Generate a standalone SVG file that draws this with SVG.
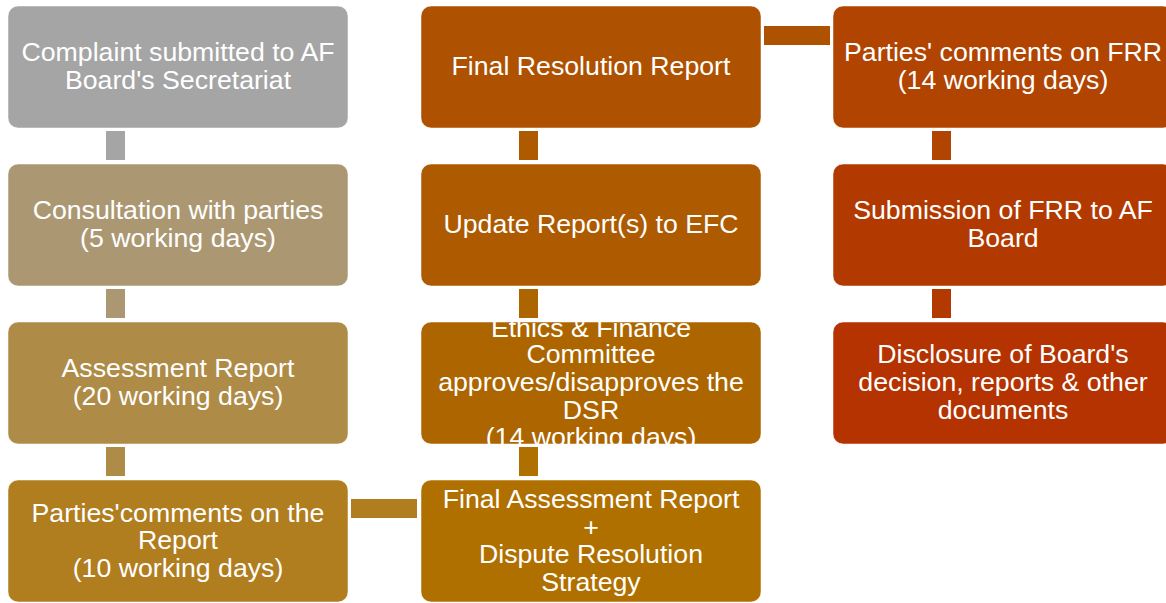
<svg xmlns="http://www.w3.org/2000/svg" width="1166" height="603" viewBox="0 0 1166 603">
<style>
.box{stroke:#ffffff;stroke-opacity:0.5;stroke-width:1}
.t{font-family:"Liberation Sans",Arial,sans-serif;font-size:26.7px;fill:#ffffff;text-anchor:middle}
</style>
<defs>
<clipPath id="clipEthics"><rect x="421" y="322" width="340" height="122" rx="10"/></clipPath>
</defs>
<rect width="1166" height="603" fill="#ffffff"/>
<g id="connectors">
<rect x="106" y="131" width="19" height="29" fill="#a5a5a5"/>
<rect x="106" y="289" width="19" height="29" fill="#ab9872"/>
<rect x="106" y="447" width="19" height="29" fill="#ae8b46"/>
<rect x="351" y="499" width="66" height="19" fill="#b07d1f"/>
<rect x="519" y="447" width="19" height="29" fill="#b07000"/>
<rect x="519" y="289" width="19" height="29" fill="#ad6500"/>
<rect x="519" y="131" width="19" height="29" fill="#ad5a00"/>
<rect x="764" y="26" width="66" height="19" fill="#ae5100"/>
<rect x="932" y="131" width="19" height="29" fill="#b04400"/>
<rect x="932" y="289" width="19" height="29" fill="#b23a00"/>
</g>
<g id="n1"><rect class="box" x="8" y="6" width="340" height="122" rx="10" fill="#a5a5a5"/>
<text class="t" x="178" y="61">Complaint submitted to AF</text><text class="t" x="178" y="89">Board's Secretariat</text></g>
<g id="n2"><rect class="box" x="8" y="164" width="340" height="122" rx="10" fill="#ab9872"/>
<text class="t" x="178" y="219">Consultation with parties</text><text class="t" x="178" y="247">(5 working days)</text></g>
<g id="n3"><rect class="box" x="8" y="322" width="340" height="122" rx="10" fill="#ae8b46"/>
<text class="t" x="178" y="377">Assessment Report</text><text class="t" x="178" y="405">(20 working days)</text></g>
<g id="n4"><rect class="box" x="8" y="480" width="340" height="122" rx="10" fill="#b07d1f"/>
<text class="t" x="178" y="522">Parties'comments on the</text><text class="t" x="178" y="549">Report</text><text class="t" x="178" y="577">(10 working days)</text></g>
<g id="n5"><rect class="box" x="421" y="480" width="340" height="122" rx="10" fill="#b07000"/>
<text class="t" x="591" y="508">Final Assessment Report</text><text class="t" x="591" y="536">+</text><text class="t" x="591" y="563">Dispute Resolution</text><text class="t" x="591" y="591">Strategy</text></g>
<g id="n6"><rect class="box" x="421" y="322" width="340" height="122" rx="10" fill="#ad6500"/>
<g clip-path="url(#clipEthics)"><text class="t" x="591" y="337">Ethics &amp; Finance</text><text class="t" x="591" y="363">Committee</text><text class="t" x="591" y="391">approves/disapproves the</text><text class="t" x="591" y="419">DSR</text><text class="t" x="591" y="446">(14 working days)</text></g></g>
<g id="n7"><rect class="box" x="421" y="164" width="340" height="122" rx="10" fill="#ad5a00"/>
<text class="t" x="591" y="233">Update Report(s) to EFC</text></g>
<g id="n8"><rect class="box" x="421" y="6" width="340" height="122" rx="10" fill="#ae5100"/>
<text class="t" x="591" y="75">Final Resolution Report</text></g>
<g id="n9"><rect class="box" x="833" y="6" width="340" height="122" rx="10" fill="#b04400"/>
<text class="t" x="1003" y="61">Parties' comments on FRR</text><text class="t" x="1003" y="89">(14 working days)</text></g>
<g id="n10"><rect class="box" x="833" y="164" width="340" height="122" rx="10" fill="#b23a00"/>
<text class="t" x="1003" y="219">Submission of FRR to AF</text><text class="t" x="1003" y="247">Board</text></g>
<g id="n11"><rect class="box" x="833" y="322" width="340" height="122" rx="10" fill="#b43300"/>
<text class="t" x="1003" y="363">Disclosure of Board's</text><text class="t" x="1003" y="391">decision, reports &amp; other</text><text class="t" x="1003" y="419">documents</text></g>
</svg>
